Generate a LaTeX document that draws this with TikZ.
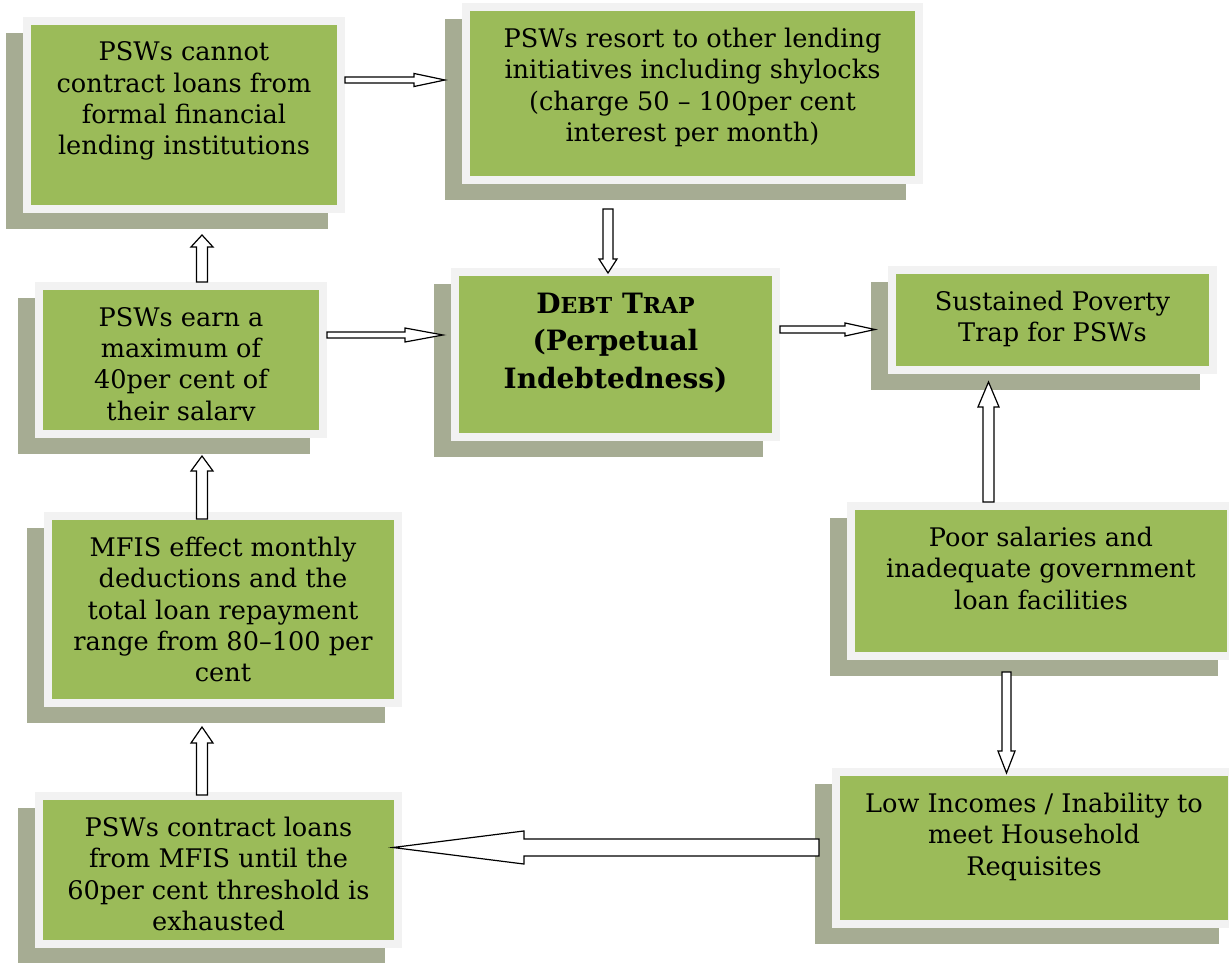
\documentclass[tikz,border=0pt]{standalone}
\usepackage{fontspec}
\setmainfont{DejaVu Serif}
\usetikzlibrary{positioning,calc}

\definecolor{panelgreen}{RGB}{155,187,89}
\definecolor{panelrim}{RGB}{242,242,242}
\definecolor{panelback}{RGB}{166,172,147}

\newcommand{\fakesc}[1]{{\fontsize{16.5}{28}\selectfont #1}}

\tikzset{
  panel/.style={draw=panelrim, fill=panelgreen, line width=6pt, inner sep=0pt},
  backdrop/.style={fill=panelback, inner sep=0pt, outer sep=0pt},
  txt/.style={align=center, inner sep=0pt, outer sep=0pt, font=\fontsize{19.2}{23.5}\selectfont},
  title/.style={align=center, inner sep=0pt, outer sep=0pt, font=\fontsize{21}{28}\selectfont\bfseries},
  blockarrow/.style n args={3}{draw=black, fill=white, line width=0.9pt, line join=miter,
    to path={($(\tikztostart)!#1!90:(\tikztotarget)$)
      -- ($(\tikztotarget)!#3!(\tikztostart)!#1!90:(\tikztotarget)$)
      -- ($(\tikztotarget)!#3!(\tikztostart)!#2!90:(\tikztotarget)$)
      -- (\tikztotarget)
      -- ($(\tikztotarget)!#3!(\tikztostart)!#2!-90:(\tikztotarget)$)
      -- ($(\tikztotarget)!#3!(\tikztostart)!#1!-90:(\tikztotarget)$)
      -- ($(\tikztostart)!#1!-90:(\tikztotarget)$) -- cycle}}
}

\begin{document}
\begin{tikzpicture}[x=0.75pt,y=0.75pt,yscale=-1,xscale=1]
\useasboundingbox (0,0) rectangle (1229,963);

%Panels with their backdrops
\node[backdrop, minimum width=241.5pt, minimum height=147pt] (s1) at (167,131) {};
\node[panel, minimum width=235.5pt, minimum height=141pt] (b1) at (184,115) {};
\node[backdrop, minimum width=345.75pt, minimum height=135.75pt] (s2) at (675.5,109.5) {};
\node[panel, minimum width=339.75pt, minimum height=129.75pt] (b2) at (692.5,93.5) {};
\node[backdrop, minimum width=246.75pt, minimum height=129.75pt] (s3) at (598.5,370.5) {};
\node[panel, minimum width=240.75pt, minimum height=123.75pt] (b3) at (615.5,354.5) {};
\node[backdrop, minimum width=246.75pt, minimum height=81pt] (s4) at (1035.5,336) {};
\node[panel, minimum width=240.75pt, minimum height=75pt] (b4) at (1052.5,320) {};
\node[backdrop, minimum width=219pt, minimum height=117pt] (s5) at (164,376) {};
\node[panel, minimum width=213pt, minimum height=111pt] (b5) at (181,360) {};
\node[backdrop, minimum width=268.5pt, minimum height=146.25pt] (s6) at (206,625.5) {};
\node[panel, minimum width=262.5pt, minimum height=140.25pt] (b6) at (223,609.5) {};
\node[backdrop, minimum width=291pt, minimum height=118.5pt] (s7) at (1024,597) {};
\node[panel, minimum width=285pt, minimum height=112.5pt] (b7) at (1041,581) {};
\node[backdrop, minimum width=275.25pt, minimum height=117pt] (s8) at (201.5,886) {};
\node[panel, minimum width=269.25pt, minimum height=111pt] (b8) at (218.5,870) {};
\node[backdrop, minimum width=303pt, minimum height=120pt] (s9) at (1017,864) {};
\node[panel, minimum width=297pt, minimum height=114pt] (b9) at (1034,848) {};

%Panel texts
\node[txt, below=18.75pt of b1.north] (t1) {PSWs cannot\\contract loans from\\formal financial\\lending institutions};
\node[txt, below=18.75pt of b2.north] (t2) {PSWs resort to other lending\\initiatives including shylocks\\(charge 50 – 100per cent\\interest per month)};
\node[title, below=18.75pt of b3.north] (t3) {D\fakesc{EBT} T\fakesc{RAP}\\(Perpetual\\Indebtedness)};
\node[txt, below=18.75pt of b4.north] (t4) {Sustained Poverty\\Trap for PSWs};
\begin{scope}
\clip (b5.north west) rectangle (b5.east |- 0,420);
\node[txt, below=18.75pt of b5.north] (t5) {PSWs earn a\\maximum of\\40per cent of\\their salary};
\end{scope}
\node[txt, below=18.75pt of b6.north] (t6) {MFIS effect monthly\\deductions and the\\total loan repayment\\range from 80–100 per\\cent};
\node[txt, below=18.75pt of b7.north] (t7) {Poor salaries and\\inadequate government\\loan facilities};
\node[txt, below=18.75pt of b8.north] (t8) {PSWs contract loans\\from MFIS until the\\60per cent threshold is\\exhausted};
\node[txt, below=18.75pt of b9.north] (t9) {Low Incomes / Inability to\\meet Household\\Requisites};

%Block arrows
\draw[blockarrow={2.25pt}{4.9pt}{23.25pt}] (b1.east |- 0,80) to (s2.west |- 0,80);
\draw[blockarrow={3.75pt}{6.75pt}{10.5pt}] ($(s2.south -| 608,0)+(0,9)$) to ($(b3.north -| 608,0)+(0,5)$);
\draw[blockarrow={4.1pt}{8.25pt}{9pt}] (b5.north -| 202,0) to ($(s1.south -| 202,0)+(0,6)$);
\draw[blockarrow={2.25pt}{5.25pt}{28.5pt}] (b5.east |- 0,335) to ($(s3.west |- 0,335)+(9,0)$);
\draw[blockarrow={2.6pt}{4.9pt}{22.5pt}] (b3.east |- 0,329.5) to ($(s4.west |- 0,329.5)+(4,0)$);
\draw[blockarrow={4.1pt}{7.9pt}{18.75pt}] (b7.north -| 988.5,0) to ($(s4.south -| 988.5,0)+(0,-8)$);
\draw[blockarrow={3.4pt}{6.4pt}{16.5pt}] ($(s7.south -| 1006.5,0)+(0,-4)$) to ($(b9.north -| 1006.5,0)+(0,5)$);
\draw[blockarrow={6.4pt}{12.4pt}{98.25pt}] ($(s9.west |- 0,847.5)+(4,0)$) to ($(b8.east |- 0,847.5)+(-9,0)$);
\draw[blockarrow={4.1pt}{8.25pt}{12pt}] ($(b8.north -| 202,0)+(0,3)$) to ($(s6.south -| 202,0)+(0,4)$);
\draw[blockarrow={4.1pt}{8.25pt}{11.25pt}] ($(b6.north -| 202,0)+(0,7)$) to ($(s5.south -| 202,0)+(0,2)$);

\end{tikzpicture}
\end{document}
